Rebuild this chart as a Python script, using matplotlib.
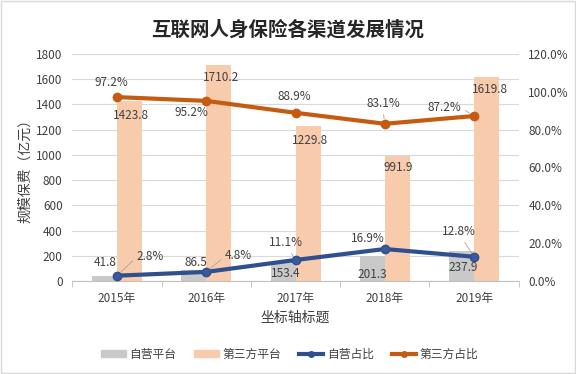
import matplotlib
matplotlib.use('Agg')
import matplotlib.pyplot as plt
import numpy as np
from matplotlib.patches import Patch, Rectangle
from matplotlib.lines import Line2D

plt.rcParams['font.family'] = ['Noto Sans CJK SC', 'DejaVu Sans']

years = ['2015年', '2016年', '2017年', '2018年', '2019年']
self_platform = [41.8, 86.5, 153.4, 201.3, 237.9]
third_platform = [1423.8, 1710.2, 1229.8, 991.9, 1619.8]
self_share = [2.8, 4.8, 11.1, 16.9, 12.8]
third_share = [97.2, 95.2, 88.9, 83.1, 87.2]

grey = '#C9C9C9'
peach = '#F8CBAD'
blue = '#2F4F8F'
orange = '#C55A11'
text_color = '#404040'

fig = plt.figure(figsize=(5.76, 3.74), dpi=100)
ax = fig.add_axes([0.1257, 0.2487, 0.7748, 0.607])
ax2 = ax.twinx()

x = np.arange(len(years))
w = 0.28
ax.bar(x - w / 2, self_platform, w, color=grey, zorder=2)
ax.bar(x + w / 2, third_platform, w, color=peach, zorder=2)

ax2.plot(x, third_share, color=orange, lw=3, marker='o', ms=6, zorder=3)
ax2.plot(x, self_share, color=blue, lw=3, marker='o', ms=6,
         markerfacecolor='#3A5A9A', zorder=3)

ax.set_xlim(-0.5, len(years) - 0.5)
ax.set_ylim(0, 1800)
ax.set_yticks(range(0, 1801, 200))
ax2.set_ylim(0, 120)
ax2.set_yticks(range(0, 121, 20))
ax2.set_yticklabels([f'{v:.1f}%' for v in range(0, 121, 20)])

ax.set_xticks(x)
ax.set_xticklabels(years)
ax.set_xticks(np.arange(-0.5, len(years)), minor=True)
ax.tick_params(axis='x', which='major', length=0, pad=8)
ax.tick_params(axis='x', which='minor', length=4, color='#BFBFBF')
ax.tick_params(axis='y', length=0, pad=7)
ax2.tick_params(axis='y', length=0, pad=7)
for a in (ax, ax2):
    a.tick_params(labelsize=8.5, labelcolor=text_color)
    for s in a.spines.values():
        s.set_visible(False)
ax.spines['bottom'].set_visible(True)
ax.spines['bottom'].set_color('#BFBFBF')
ax.grid(axis='y', color='#D9D9D9', lw=0.8, zorder=0)
ax.set_axisbelow(True)

ax.set_ylabel('规模保费（亿元）', fontsize=10, color=text_color, labelpad=3)
ax.set_xlabel('坐标轴标题', fontsize=10, color=text_color, labelpad=4)
fig.suptitle('互联网人身保险各渠道发展情况', fontsize=14, fontweight='bold',
             color='#262626', y=0.945)

fs = 8.5
# bar value labels (data coords on ax)
self_lab = [(-0.13, 143), (0.88, 143), (1.89, 63), (2.86, 48), (3.88, 103)]
third_lab = [(0.16, 1316), (1.16, 1610), (2.16, 1110), (3.15, 896), (4.18, 1522)]
for (px, py), v in zip(self_lab, self_platform):
    ax.text(px, py, f'{v:.1f}', ha='center', va='center', fontsize=fs, color=text_color, zorder=5)
for (px, py), v in zip(third_lab, third_platform):
    ax.text(px, py, f'{v:.1f}', ha='center', va='center', fontsize=fs, color=text_color, zorder=5)

# line value labels (data coords on ax2), with leader lines where the reference has them
third_pos = [(-0.06, 104.7), (0.83, 89.3), (1.99, 97.3), (2.98, 93.6), (3.67, 91.5)]
third_rel = [None, None, (0.5, 0.0), (0.5, 0.0), (1.0, 0.5)]
self_pos = [(0.37, 13.2), (1.36, 13.7), (1.89, 20.1), (2.81, 22.7), (3.83, 25.9)]
self_rel = [(0.0, 0.4), (0.0, 0.4), (0.6, 0.0), None, (0.6, 0.0)]


def label(pos, rel, vals):
    for (px, py), r, v, i in zip(pos, rel, vals, x):
        arrow = None
        if r is not None:
            arrow = dict(arrowstyle='-', color='#A6A6A6', lw=0.6, relpos=r,
                         shrinkA=1, shrinkB=3.5)
        ax2.annotate(f'{v:.1f}%', xy=(i, v), xytext=(px, py), ha='center', va='center',
                     fontsize=fs, color=text_color, zorder=5, arrowprops=arrow)


label(third_pos, third_rel, third_share)
label(self_pos, self_rel, self_share)

handles = [Patch(color=grey), Patch(color=peach),
           Line2D([], [], color=blue, lw=3, marker='o', ms=4),
           Line2D([], [], color=orange, lw=3, marker='o', ms=4)]
labels = ['自营平台', '第三方平台', '自营占比', '第三方占比']
leg = fig.legend(handles, labels, loc='center', bbox_to_anchor=(0.503, 0.053), ncol=4,
                 frameon=False, fontsize=8.5, handlelength=2.1, handleheight=0.5,
                 handletextpad=0.3, columnspacing=1.5)
for t in leg.get_texts():
    t.set_color(text_color)

fig.patches.append(Rectangle((0.002, 0.003), 0.996, 0.994, transform=fig.transFigure,
                             fill=False, edgecolor='#D9D9D9', lw=1))

fig.savefig('out.png', dpi=100)
